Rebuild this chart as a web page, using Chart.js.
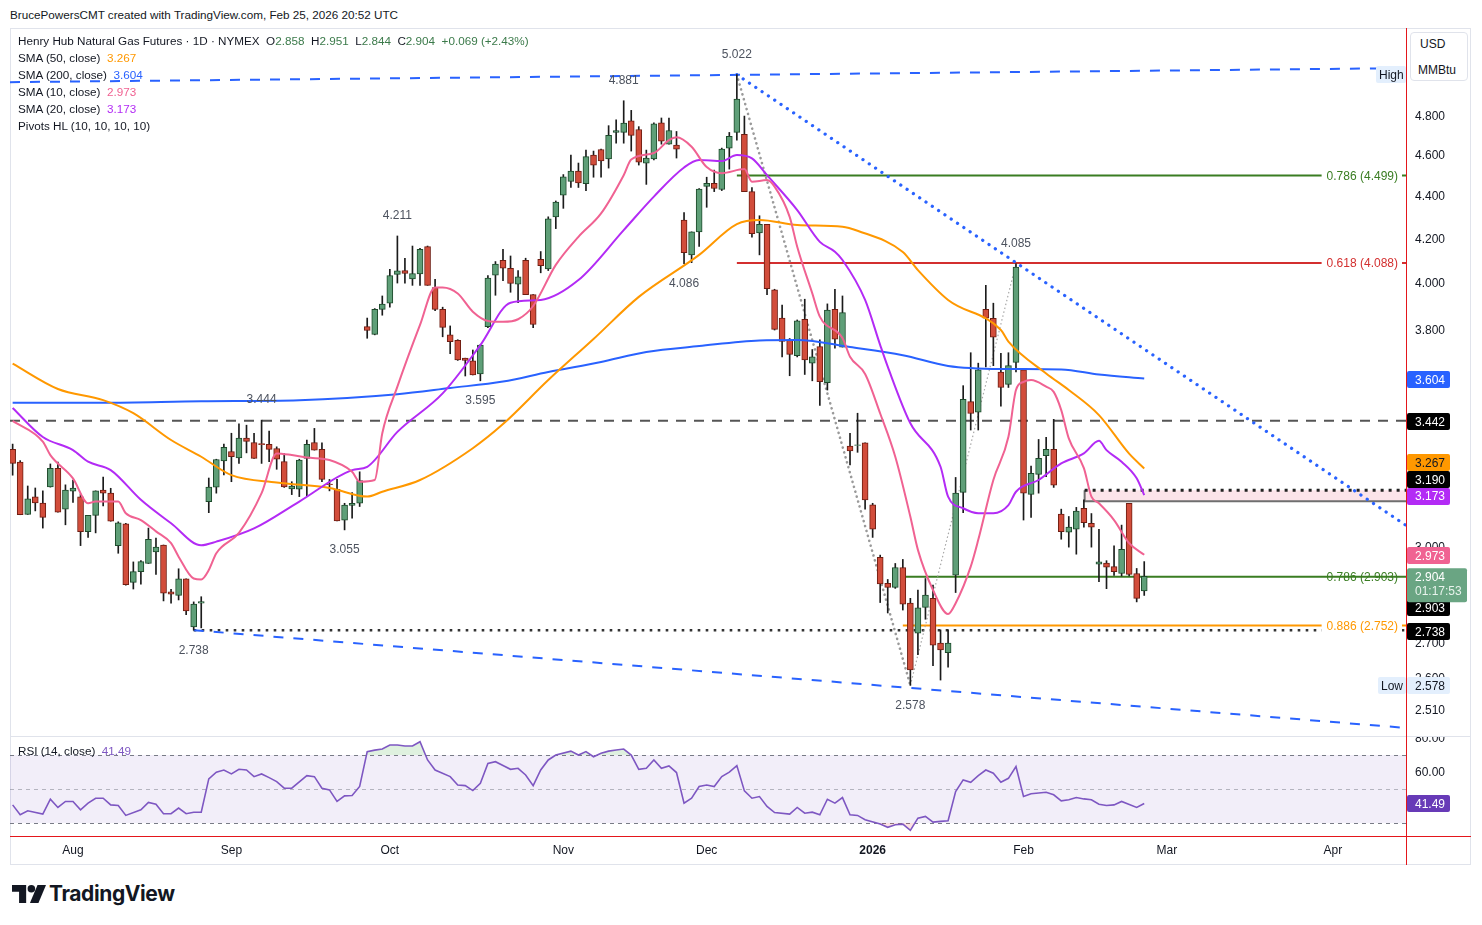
<!DOCTYPE html>
<html>
<head>
<meta charset="utf-8">
<title>Henry Hub Natural Gas Futures</title>
<script src="https://cdn.jsdelivr.net/npm/chart.js@4.4.1/dist/chart.umd.min.js"></script>
<style>
  html, body { margin: 0; padding: 0; background: #fff; }
  body { width: 1482px; height: 925px; position: relative; overflow: hidden;
         font-family: "Liberation Sans", Arial, sans-serif; font-size: 11.7px; line-height: 14px; color: #131722; }
  .abs { position: absolute; white-space: nowrap; }
  canvas { position: absolute; }
  #main { left: 10px; top: 29px; }
  #rsi { left: 10px; top: 736px; }
  .g { color: #3b7a4a; }
  #frame { position: absolute; left: 10px; top: 28px; width: 1461px; height: 837px; border: 1px solid #e0e3eb; box-sizing: border-box; }
  #unit { position: absolute; left: 1410px; top: 32px; width: 58px; height: 49px; border: 1px solid #e0e3eb; border-radius: 4px; box-sizing: border-box; background: #fff; }
</style>
</head>
<body>
<div id="frame"></div>
<canvas id="main" width="1461" height="707"></canvas>
<canvas id="rsi" width="1461" height="130"></canvas>

<div class="abs" style="left:10px;top:8px;">BrucePowersCMT created with TradingView.com, Feb 25, 2026 20:52 UTC</div>

<div class="abs" style="left:18px;top:34px;">Henry Hub Natural Gas Futures · 1D · NYMEX&nbsp;&nbsp;O<span class="g">2.858</span>&nbsp;&nbsp;H<span class="g">2.951</span>&nbsp;&nbsp;L<span class="g">2.844</span>&nbsp;&nbsp;C<span class="g">2.904</span>&nbsp;&nbsp;<span class="g">+0.069 (+2.43%)</span></div>
<div class="abs" style="left:18px;top:51px;">SMA (50, close)&nbsp;&nbsp;<span style="color:#ff9800">3.267</span></div>
<div class="abs" style="left:18px;top:68px;">SMA (200, close)&nbsp;&nbsp;<span style="color:#2962ff">3.604</span></div>
<div class="abs" style="left:18px;top:85px;">SMA (10, close)&nbsp;&nbsp;<span style="color:#f06292">2.973</span></div>
<div class="abs" style="left:18px;top:102px;">SMA (20, close)&nbsp;&nbsp;<span style="color:#b32bf5">3.173</span></div>
<div class="abs" style="left:18px;top:119px;">Pivots HL (10, 10, 10, 10)</div>
<div class="abs" style="left:18px;top:744px;">RSI (14, close)&nbsp;&nbsp;<span style="color:#7e57c2">41.49</span></div>

<div id="unit"></div>
<div class="abs" style="left:1420px;top:37px;font-size:12px;">USD</div>
<div class="abs" style="left:1418px;top:63px;font-size:12px;">MMBtu</div>

<!-- pane separator and the two red drawn lines -->
<div class="abs" style="left:10px;top:736px;width:1461px;height:1px;background:#e0e3eb;"></div>
<div class="abs" style="left:10px;top:836px;width:1461px;height:1px;background:#e4161b;"></div>
<div class="abs" style="left:1406px;top:28px;width:1px;height:837px;background:#e4161b;"></div>

<div class="abs" style="left:12px;top:885px;">
  <svg width="34" height="18" viewBox="0 0 36 19"><path d="M0 0h15v19h-7.5V7H0z" fill="#131722"/><circle cx="20.5" cy="4" r="4" fill="#131722"/><path d="M27 0h9l-8 19h-9z" fill="#131722"/></svg>
</div>
<div class="abs" style="left:49px;top:882px;font-family:Inter, 'Liberation Sans', sans-serif;font-weight:700;font-size:21px;line-height:24px;letter-spacing:-0.4px;">TradingView</div>

<script>
// ---- daily bars (index 0 = 22 Jul 2025 ... index 150 = 25 Feb 2026) ----
const opens = [
  3.336,3.290,3.107,3.167,3.146,3.202,3.267,3.125,3.187,3.167,
  3.049,3.104,3.191,3.180,3.003,3.075,2.885,2.919,2.945,2.982,
  3.005,2.855,2.844,2.896,2.748,2.820,3.151,3.201,3.294,3.328,
  3.305,3.377,3.361,3.357,3.354,3.339,3.292,3.195,3.194,3.303,
  3.361,3.336,3.212,3.193,3.088,3.138,3.145,3.814,3.782,3.887,
  3.913,4.038,4.055,4.018,4.040,4.162,3.980,3.887,3.780,3.757,
  3.685,3.674,3.622,3.814,4.035,4.100,4.065,3.995,4.100,3.950,
  4.105,4.062,4.300,4.403,4.470,4.520,4.458,4.600,4.628,4.580,
  4.715,4.715,4.775,4.730,4.560,4.580,4.765,4.655,4.650,4.285,
  4.125,4.230,4.445,4.460,4.430,4.635,4.715,4.705,4.420,4.225,
  4.265,3.970,3.850,3.760,3.695,3.845,3.665,3.732,3.588,3.887,
  3.730,3.348,3.350,3.360,3.140,2.965,2.882,2.869,2.932,2.820,
  2.729,2.807,2.835,2.700,2.672,2.908,3.183,3.514,3.474,3.887,
  3.849,3.629,3.581,3.668,3.638,3.176,3.246,3.313,3.336,3.108,
  3.047,3.057,3.128,3.077,2.943,2.946,2.935,2.913,3.145,2.913,
  2.858];
const highs = [
  3.355,3.295,3.205,3.198,3.188,3.283,3.290,3.209,3.226,3.177,
  3.104,3.188,3.236,3.197,3.082,3.077,2.950,2.954,3.061,3.028,
  3.005,2.863,2.928,2.896,2.824,2.840,3.233,3.300,3.355,3.395,
  3.430,3.425,3.395,3.444,3.403,3.345,3.320,3.220,3.300,3.370,
  3.413,3.360,3.228,3.228,3.145,3.182,3.255,3.850,3.890,3.944,
  4.060,4.211,4.110,4.165,4.155,4.165,4.016,3.896,3.817,3.760,
  3.685,3.718,3.740,4.033,4.095,4.150,4.120,4.055,4.110,3.950,
  4.140,4.300,4.375,4.503,4.600,4.560,4.625,4.620,4.630,4.750,
  4.780,4.881,4.830,4.745,4.625,4.765,4.790,4.790,4.720,4.320,
  4.230,4.435,4.490,4.525,4.635,4.715,5.022,4.800,4.440,4.305,
  4.265,3.973,3.905,3.765,3.842,3.930,3.720,3.760,3.910,3.973,
  3.944,3.395,3.470,3.360,3.145,2.972,2.894,2.945,2.958,2.835,
  2.861,2.897,2.876,2.739,2.739,3.235,3.576,3.707,3.665,3.990,
  3.913,3.705,3.707,4.085,3.640,3.275,3.372,3.380,3.447,3.125,
  3.100,3.131,3.157,3.110,3.057,2.954,3.002,3.071,3.145,2.929,
  2.951];
const lows = [
  3.243,3.106,3.107,3.119,3.061,3.201,3.115,3.072,3.148,3.003,
  3.030,3.045,3.136,3.084,2.978,2.876,2.864,2.879,2.945,2.910,
  2.827,2.820,2.830,2.785,2.738,2.745,3.113,3.180,3.244,3.220,
  3.285,3.323,3.303,3.285,3.291,3.264,3.200,3.175,3.168,3.168,
  3.333,3.220,3.188,3.085,3.055,3.094,3.134,3.766,3.780,3.862,
  3.896,4.000,4.000,3.990,3.990,3.990,3.881,3.772,3.703,3.676,
  3.614,3.618,3.595,3.810,3.947,4.010,3.960,3.915,3.950,3.810,
  4.045,4.055,4.245,4.340,4.440,4.440,4.424,4.490,4.490,4.535,
  4.660,4.660,4.620,4.550,4.455,4.575,4.655,4.655,4.585,4.086,
  4.090,4.163,4.345,4.420,4.425,4.530,4.675,4.420,4.205,4.125,
  3.950,3.800,3.690,3.615,3.690,3.620,3.595,3.500,3.559,3.725,
  3.730,3.280,3.325,3.125,3.030,2.822,2.790,2.866,2.799,2.578,
  2.666,2.771,2.634,2.593,2.630,2.853,3.113,3.407,3.407,3.650,
  3.655,3.497,3.569,3.630,3.088,3.097,3.180,3.238,3.200,3.024,
  2.998,2.975,3.064,2.998,2.887,2.865,2.907,2.905,2.905,2.824,
  2.844];
const closes = [
  3.285,3.106,3.160,3.146,3.097,3.267,3.115,3.191,3.198,3.049,
  3.104,3.188,3.180,3.084,3.079,2.878,2.919,2.951,3.024,2.998,
  2.851,2.848,2.896,2.796,2.817,2.825,3.201,3.299,3.343,3.309,
  3.377,3.365,3.303,3.353,3.336,3.300,3.202,3.205,3.297,3.354,
  3.333,3.228,3.210,3.085,3.139,3.145,3.224,3.798,3.887,3.909,
  4.033,4.054,4.042,4.042,4.150,3.990,3.887,3.811,3.752,3.678,
  3.676,3.618,3.738,4.022,4.084,4.065,3.998,4.027,3.950,3.823,
  4.077,4.290,4.370,4.492,4.520,4.462,4.592,4.550,4.570,4.700,
  4.725,4.763,4.700,4.565,4.585,4.760,4.670,4.725,4.630,4.135,
  4.230,4.432,4.460,4.435,4.630,4.695,4.890,4.420,4.222,4.265,
  3.975,3.803,3.753,3.700,3.838,3.678,3.690,3.592,3.884,3.762,
  3.873,3.330,3.352,3.157,3.057,2.880,2.869,2.932,2.817,2.622,
  2.806,2.845,2.694,2.680,2.700,3.180,3.523,3.469,3.638,3.849,
  3.770,3.569,3.655,4.070,3.180,3.250,3.303,3.336,3.208,3.049,
  3.064,3.118,3.079,3.064,2.950,2.933,2.919,2.991,2.910,2.835,
  2.904];

// ---- moving averages: [bar index, value] ----
const sma10 = [[0,3.441],[4,3.364],[5,3.315],[8,3.232],[10,3.145],[11,3.151],[14,3.151],[15,3.111],[17,3.088],[19,3.05],
  [21,3.011],[22,2.967],[24,2.897],[25,2.894],[26,2.924],[27,2.978],[30,3.045],[33,3.18],[35,3.321],[37,3.315],
  [39,3.306],[42,3.297],[45,3.255],[46,3.22],[48,3.226],[49,3.395],[51,3.572],[54,3.821],[56,3.981],[57,3.981],
  [59,3.955],[61,3.877],[63,3.838],[65,3.834],[67,3.845],[69,3.901],[72,4.08],[75,4.207],[78,4.316],[81,4.50],
  [82,4.578],[85,4.61],[87,4.676],[88,4.69],[90,4.642],[92,4.54],[94,4.51],[97,4.53],[98,4.468],[100,4.476],
  [101,4.444],[103,4.30],[104,4.162],[106,3.955],[107,3.856],[110,3.767],[111,3.691],[113,3.622],[115,3.469],[117,3.309],
  [119,3.099],[120,2.989],[122,2.861],[124,2.787],[125,2.82],[127,2.935],[128,3.022],[130,3.226],[132,3.382],[133,3.559],
  [134,3.591],[135,3.598],[137,3.572],[138,3.552],[139,3.482],[140,3.376],[142,3.268],[143,3.168],[144,3.145],[146,3.088],
  [148,3.011],[150,2.973]];
const sma20 = [[0,3.49],[4,3.381],[8,3.333],[10,3.291],[13,3.261],[17,3.157],[21,3.077],[25,3.004],[27,3.016],[32,3.06],
  [38,3.151],[45,3.261],[47,3.273],[51,3.40],[57,3.546],[62,3.738],[66,3.915],[70,3.927],[75,4.013],[81,4.238],
  [85,4.396],[89,4.538],[91,4.575],[94,4.57],[96,4.60],[98,4.583],[100,4.50],[104,4.332],[107,4.184],[109,4.139],
  [110,4.102],[113,3.927],[115,3.738],[116,3.651],[119,3.432],[123,3.273],[124,3.168],[126,3.128],[128,3.111],[130,3.111],
  [132,3.139],[133,3.185],[136,3.226],[139,3.285],[142,3.321],[144,3.367],[145,3.333],[147,3.291],[149,3.232],[150,3.173]];
const sma50 = [[0,3.663],[6,3.563],[12,3.52],[16,3.47],[21,3.37],[25,3.309],[29,3.243],[35,3.217],[42,3.198],[47,3.168],
  [49,3.185],[54,3.226],[61,3.34],[65,3.429],[71,3.598],[77,3.763],[83,3.94],[91,4.125],[96,4.266],[99,4.285],
  [104,4.262],[110,4.254],[112,4.235],[118,4.138],[120,4.057],[124,3.927],[131,3.80],[132,3.752],[137,3.624],[140,3.559],
  [144,3.463],[148,3.32],[150,3.267]];
const sma200 = [[0,3.51],[12,3.51],[25,3.516],[38,3.52],[51,3.543],[58,3.567],[65,3.592],[71,3.63],[78,3.67],[84,3.71],
  [91,3.734],[99,3.757],[104,3.759],[111,3.73],[118,3.697],[124,3.654],[131,3.642],[139,3.64],[144,3.62],[150,3.604]];

// ---- RSI (14): [bar index, value] ----
const rsi14 = [[0,40.7],[1,34.9],[2,37.2],[4,35.3],[5,44.0],[6,39.2],[7,42.7],[8,42.7],[9,37.8],[10,41.7],
  [11,44.6],[12,44.6],[13,40.7],[14,40.3],[15,34.5],[17,37.8],[18,42.1],[19,41.1],[20,35.5],[21,35.5],
  [22,38.8],[23,35.5],[24,36.4],[25,36.4],[26,56.0],[27,59.9],[28,61.2],[29,58.9],[30,61.6],[31,61.2],
  [32,57.3],[33,58.9],[34,56.7],[35,54.4],[36,50.5],[37,50.5],[39,57.9],[40,57.3],[41,50.5],[42,49.5],
  [43,42.7],[44,46.0],[45,46.2],[46,51.5],[47,72.0],[48,72.9],[49,73.5],[50,75.9],[51,75.9],[52,75.3],
  [53,75.3],[54,77.8],[55,67.1],[56,61.2],[58,57.3],[59,52.4],[60,52.0],[61,49.1],[62,53.4],[63,65.1],
  [64,66.1],[65,63.8],[66,61.6],[67,62.2],[68,58.3],[69,52.0],[70,61.2],[71,67.1],[72,70.0],[74,72.3],
  [75,70.0],[76,72.0],[77,69.0],[78,71.0],[79,72.3],[80,73.0],[81,73.5],[82,70.0],[83,61.6],[84,62.2],
  [85,67.1],[86,62.2],[87,63.6],[88,59.7],[89,41.7],[90,44.6],[91,51.5],[92,52.4],[93,51.5],[94,57.3],
  [95,59.9],[96,63.8],[97,48.9],[98,44.6],[99,45.6],[100,39.8],[101,36.2],[103,35.3],[104,39.2],[105,35.8],
  [106,36.4],[107,34.9],[108,44.0],[109,41.7],[110,45.0],[111,34.9],[112,34.5],[113,32.0],[115,29.4],[116,27.5],
  [117,29.0],[118,29.4],[119,25.7],[120,32.9],[121,33.9],[122,30.6],[123,31.0],[124,31.4],[125,48.5],[126,55.4],
  [127,54.0],[128,57.9],[129,61.2],[130,59.3],[131,54.0],[132,56.3],[133,63.2],[134,45.6],[135,47.2],[137,48.1],
  [138,46.6],[139,43.1],[140,43.7],[141,45.0],[142,44.2],[143,43.7],[144,41.1],[145,40.3],[146,40.7],[147,42.7],
  [149,39.2],[150,41.49]];

// ---- pivots HL ----
const pivotIdx  = [96, 81, 51, 133, 33, 89, 62, 44, 24, 119];
const pivotVal  = [5.022, 4.881, 4.211, 4.085, 3.444, 4.086, 3.595, 3.055, 2.738, 2.578];
const pivotHigh = [true, true, true, true, true, false, false, false, false, false];

// ---- drawings ----
const fibNames  = ['0.786', '0.618', '0.786', '0.886'];
const fibValues = [4.499, 4.088, 2.903, 2.752];
const fibStart  = [96, 96, 118, 118];
const trendTop    = [[-0.35, 4.981], [184.7, 5.058]];
const trendBottom = [[24, 2.738], [184.7, 2.461]];
const trendDown   = [[96, 5.022], [184.7, 3.07]];
const zigDown     = [[96, 5.022], [119, 2.578]];
const zigUp       = [[119, 2.578], [133, 4.085]];
const resistLevel = [[-0.35, 3.442], [184.7, 3.442]];
const supportLevel = [[24, 2.738], [184.7, 2.738]];
const zoneStart = 142.1, zoneTop = 3.190, zoneBottom = 3.152;

// ---- axes ----
const xMin = -0.35, xMax = 184.7;
const priceMin = 2.442, priceMax = 5.273;
const priceTicks = [4.8, 4.6, 4.4, 4.2, 4.0, 3.8, 3.0, 2.7, 2.6, 2.51];
const monthIdx = [8, 29, 50, 73, 92, 114, 134, 153, 175];
const monthNames = ['Aug', 'Sep', 'Oct', 'Nov', 'Dec', '2026', 'Feb', 'Mar', 'Apr'];
const axisTagValues = [3.604, 3.442, 3.267, 3.190, 3.173, 2.973, 2.903, 2.738];
const axisTagNudge  = [1, 1, -6, -11, 1, 1, 31, 1];
const axisTagBg = ['#2962ff', '#000000', '#ff9800', '#000000', '#b32bf5', '#f06292', '#000000', '#000000'];
const axisTagFg = ['#fff', '#fff', '#131722', '#fff', '#fff', '#fff', '#fff', '#fff'];
const lastPrice = 2.904, countdown = '01:17:53';
const rsiTicks = [80, 60];
const rsiLast = 41.49;

const FONT = '12px "Liberation Sans", Arial, sans-serif';
const UP_FILL = '#5f9f78', UP_LINE = '#1d4a2b', DN_FILL = '#d24d3b', DN_LINE = '#6e1d12';
const fibColors = ['#3a7d22', '#d32f2f', '#3a7d22', '#ff9800'];
const fibLabelBg = [true, true, false, true];

const pts = pairs => pairs.map(([x, y]) => ({ x, y }));
const isUp = closes.map((c, i) => c >= opens[i]);

function lineSet(data, color, width, extra) {
  return Object.assign({ type: 'line', data: data, borderColor: color, borderWidth: width,
    pointRadius: 0, fill: false, tension: 0, order: 5 }, extra || {});
}

function tag(ctx, x, yc, w, h, bg, fg, text, tx) {
  ctx.fillStyle = bg;
  ctx.beginPath();
  ctx.roundRect(x, Math.round(yc - h / 2), w, h, 2);
  ctx.fill();
  ctx.fillStyle = fg;
  ctx.textAlign = 'left';
  ctx.textBaseline = 'middle';
  ctx.fillText(text, tx, yc + 1);
}

const mainOverlay = {
  id: 'mainOverlay',
  beforeDatasetsDraw(chart) {
    const { ctx, chartArea: a, scales: { x, y } } = chart;
    const zx = x.getPixelForValue(zoneStart), zt = y.getPixelForValue(zoneTop), zb = y.getPixelForValue(zoneBottom);
    ctx.save();
    ctx.fillStyle = '#fce4ea';
    ctx.fillRect(zx, zt, a.right - zx, zb - zt);
    ctx.strokeStyle = '#6f6f6f';
    ctx.lineWidth = 2;
    ctx.beginPath(); ctx.moveTo(zx, zt); ctx.lineTo(zx, zb); ctx.lineTo(a.right, zb); ctx.stroke();
    ctx.strokeStyle = '#222';
    ctx.lineWidth = 3;
    ctx.setLineDash([3, 5]);
    ctx.beginPath(); ctx.moveTo(zx, zt); ctx.lineTo(a.right, zt); ctx.stroke();
    ctx.restore();
  },
  afterDatasetsDraw(chart) {
    const { ctx, chartArea: a, scales: { x, y } } = chart;
    ctx.save();
    ctx.font = FONT;
    ctx.textBaseline = 'middle';
    // fib labels
    fibValues.forEach((v, k) => {
      const py = y.getPixelForValue(v);
      const txt = fibNames[k] + ' (' + v.toFixed(3) + ')';
      const w = ctx.measureText(txt).width;
      const right = a.right - 8;
      if (fibLabelBg[k]) {
        ctx.fillStyle = '#fff';
        ctx.fillRect(right - w - 5, py - 7, w + 9, 14);
      }
      ctx.fillStyle = fibColors[k];
      ctx.textAlign = 'right';
      ctx.fillText(txt, right, py + 1);
    });
    // pivot labels
    ctx.fillStyle = '#4c525e';
    ctx.textAlign = 'center';
    pivotIdx.forEach((idx, k) => {
      const px = x.getPixelForValue(idx);
      const py = y.getPixelForValue(pivotVal[k]) + (pivotHigh[k] ? -20 : 20);
      ctx.fillText(pivotVal[k].toFixed(3), px, py);
    });
    ctx.restore();
  },
  afterDraw(chart) {
    const { ctx, chartArea: a, scales: { y } } = chart;
    const ax = a.right + 1, tx = a.right + 9;
    ctx.save();
    ctx.font = FONT;
    ctx.textBaseline = 'middle';
    ctx.textAlign = 'left';
    ctx.fillStyle = '#131722';
    priceTicks.forEach(v => ctx.fillText(v.toFixed(3), tx, y.getPixelForValue(v) + 1));
    // High / Low tags
    const hy = y.getPixelForValue(5.022), ly = y.getPixelForValue(2.578);
    tag(ctx, a.right - 30, hy, 30, 17, '#e3effd', '#131722', 'High', a.right - 27);
    tag(ctx, a.right - 28, ly, 28, 17, '#e3effd', '#131722', 'Low', a.right - 25);
    tag(ctx, ax, ly, 43, 17, '#e3effd', '#131722', '2.578', tx);
    axisTagValues.forEach((v, k) => {
      tag(ctx, ax, y.getPixelForValue(v) + axisTagNudge[k], 43, 17, axisTagBg[k], axisTagFg[k], v.toFixed(3), tx);
    });
    // last price + countdown
    const lp = y.getPixelForValue(lastPrice);
    ctx.fillStyle = '#6aa583';
    ctx.beginPath(); ctx.roundRect(ax, lp - 8, 60, 34, 2); ctx.fill();
    ctx.fillStyle = '#fff';
    ctx.fillText(lastPrice.toFixed(3), tx, lp + 1);
    ctx.fillStyle = '#e8f3ec';
    ctx.fillText(countdown, tx, lp + 15);
    ctx.restore();
  }
};

const mainChart = new Chart(document.getElementById('main'), {
  type: 'line',
  data: {
    datasets: [
      lineSet(pts(sma10), '#f06292', 2, { cubicInterpolationMode: 'monotone', order: 1 }),
      lineSet(pts(sma20), '#b32bf5', 2, { cubicInterpolationMode: 'monotone', order: 1 }),
      lineSet(pts(sma50), '#ff9800', 2, { cubicInterpolationMode: 'monotone', order: 1 }),
      lineSet(pts(sma200), '#2962ff', 2, { cubicInterpolationMode: 'monotone', order: 1 }),
      {
        type: 'bar', order: 3, grouped: false, barThickness: 6,
        data: closes.map((c, i) => ({ x: i, y: [opens[i], c] })),
        backgroundColor: isUp.map(u => u ? UP_FILL : DN_FILL),
        borderColor: isUp.map(u => u ? UP_LINE : DN_LINE),
        borderWidth: 1, borderSkipped: false
      },
      {
        type: 'bar', order: 4, grouped: false, barThickness: 1,
        data: closes.map((c, i) => ({ x: i, y: [lows[i], highs[i]] })),
        backgroundColor: '#1b1b1b', borderWidth: 0
      },
      lineSet(pts(trendTop), '#2962ff', 2, { borderDash: [10, 10] }),
      lineSet(pts(trendBottom), '#2962ff', 2, { borderDash: [10, 10] }),
      lineSet(pts(trendDown), '#2962ff', 3.2, { borderDash: [0.1, 7.5], borderCapStyle: 'round' }),
      lineSet(pts(zigDown), '#9a9a9a', 2.6, { borderDash: [0.1, 5], borderCapStyle: 'round' }),
      lineSet(pts(zigUp), '#a8a8a8', 1.2, { borderDash: [1.5, 2.5] }),
      lineSet(pts(resistLevel), '#555', 2, { borderDash: [10, 8] }),
      lineSet(pts(supportLevel), '#333', 2.6, { borderDash: [2.6, 5.4] }),
      ...fibValues.map((v, k) => lineSet([{ x: fibStart[k], y: v }, { x: xMax, y: v }], fibColors[k], 2))
    ]
  },
  options: {
    responsive: false,
    devicePixelRatio: 1,
    animation: false,
    events: [],
    layout: { padding: { left: 0, right: 65, top: 1, bottom: 1 } },
    plugins: { legend: { display: false }, tooltip: { enabled: false } },
    scales: {
      x: { type: 'linear', min: xMin, max: xMax, bounds: 'data', offset: false, display: false },
      y: { type: 'logarithmic', min: priceMin, max: priceMax, bounds: 'data', display: false }
    }
  },
  plugins: [mainOverlay]
});

const rsiOverlay = {
  id: 'rsiOverlay',
  beforeDatasetsDraw(chart) {
    const { ctx, chartArea: a, scales: { y } } = chart;
    const y70 = y.getPixelForValue(70), y30 = y.getPixelForValue(30), y50 = y.getPixelForValue(50);
    ctx.save();
    ctx.fillStyle = 'rgba(126,87,194,0.1)';
    ctx.fillRect(a.left, y70, a.right - a.left, y30 - y70);
    ctx.lineWidth = 1;
    ctx.setLineDash([4, 4]);
    ctx.strokeStyle = '#787b86';
    [y70, y30].forEach(py => { ctx.beginPath(); ctx.moveTo(a.left, Math.round(py) + 0.5); ctx.lineTo(a.right, Math.round(py) + 0.5); ctx.stroke(); });
    ctx.strokeStyle = 'rgba(120,123,134,0.5)';
    ctx.beginPath(); ctx.moveTo(a.left, Math.round(y50) + 0.5); ctx.lineTo(a.right, Math.round(y50) + 0.5); ctx.stroke();
    ctx.restore();
  },
  afterDraw(chart) {
    const { ctx, chartArea: a, scales: { x, y } } = chart;
    const tx = a.right + 9;
    ctx.save();
    ctx.font = FONT;
    ctx.textBaseline = 'middle';
    ctx.textAlign = 'left';
    ctx.fillStyle = '#131722';
    rsiTicks.forEach(v => ctx.fillText(v.toFixed(2), tx, y.getPixelForValue(v) + 1));
    tag(ctx, a.right + 1, y.getPixelForValue(rsiLast), 43, 17, '#673ab7', '#fff', rsiLast.toFixed(2), tx);
    ctx.textAlign = 'center';
    ctx.fillStyle = '#131722';
    monthIdx.forEach((idx, k) => {
      ctx.font = (monthNames[k] === '2026' ? 'bold ' : '') + FONT;
      ctx.fillText(monthNames[k], x.getPixelForValue(idx), a.bottom + 15);
    });
    ctx.restore();
  }
};

const rsiChart = new Chart(document.getElementById('rsi'), {
  type: 'line',
  data: {
    datasets: [
      lineSet(pts(rsi14), '#7e57c2', 1.6, {
        order: 1,
        fill: { target: { value: 70 }, above: 'rgba(76,175,80,0.18)', below: 'rgba(0,0,0,0)' }
      }),
      lineSet(pts(rsi14), 'rgba(0,0,0,0)', 0, {
        order: 2,
        fill: { target: { value: 30 }, above: 'rgba(0,0,0,0)', below: 'rgba(242,54,69,0.15)' }
      })
    ]
  },
  options: {
    responsive: false,
    devicePixelRatio: 1,
    animation: false,
    events: [],
    layout: { padding: { left: 0, right: 65, top: 1, bottom: 30 } },
    plugins: { legend: { display: false }, tooltip: { enabled: false } },
    scales: {
      x: { type: 'linear', min: xMin, max: xMax, bounds: 'data', display: false },
      y: { type: 'linear', min: 22.4, max: 80.6, bounds: 'data', display: false }
    }
  },
  plugins: [rsiOverlay]
});
</script>
</body>
</html>
